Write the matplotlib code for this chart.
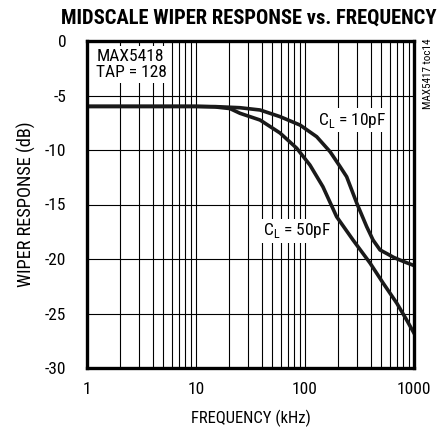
import numpy as np
import matplotlib
matplotlib.use("Agg")
import matplotlib.pyplot as plt
from matplotlib import font_manager

# frequency (kHz) and wiper response (dB)
freq_10pf = [1, 2, 5, 10, 15, 25.3, 38.7, 59, 90, 128, 170, 210, 241, 298, 368,
             421, 488, 562, 650, 745, 860, 1000]
resp_10pf = [-6.0, -6.0, -6.0, -6.0, -6.02, -6.12, -6.33, -6.94, -7.71, -8.78,
             -10.16, -11.53, -12.45, -14.86, -17.03, -18.26, -19.17, -19.5,
             -19.85, -20.1, -20.35, -20.6]

freq_50pf = [1, 2, 5, 10, 15, 20.5, 25.3, 38.7, 59, 84, 111, 146, 195, 276, 395,
             520, 694, 857, 1000]
resp_50pf = [-6.0, -6.0, -6.0, -6.0, -6.05, -6.2, -6.63, -7.25, -8.44, -9.84,
             -11.38, -13.37, -16.12, -18.26, -20.37, -22.2, -24.04, -25.6, -26.8]

x_ticks = [1, 10, 100, 1000]
x_labels = ["1", "10", "100", "1000"]
y_ticks = [0, -5, -10, -15, -20, -25, -30]

# pick a narrow face if one is installed
names = {f.name for f in font_manager.fontManager.ttflist}
narrow = next((n for n in ['Liberation Sans Narrow', 'Roboto Condensed',
                           'DejaVu Sans Condensed', 'Roboto']
               if n in names), 'DejaVu Sans')

plt.rcParams['font.family'] = [narrow, 'DejaVu Sans']
plt.rcParams['font.stretch'] = 'condensed'
plt.rcParams['axes.unicode_minus'] = False
plt.rcParams['mathtext.fontset'] = 'custom'
plt.rcParams['mathtext.rm'] = narrow

fig = plt.figure(figsize=(4.4, 4.28), dpi=100)
ax = fig.add_axes([87 / 440, 60 / 428, 327 / 440, 327 / 428])

ax.set_xscale('log')
ax.set_xlim(1, 1000)
ax.set_ylim(-30, 0)

# grid: every decade subdivision and every 5 dB
minor = [m * d for d in (1, 10, 100) for m in range(2, 10)]
for f in minor + [10, 100]:
    ax.axvline(f, color='black', lw=0.8, zorder=1)
for y in y_ticks[1:-1]:
    ax.axhline(y, color='black', lw=0.8, zorder=1)

ax.plot(freq_10pf, resp_10pf, color='#1a1a1a', lw=2.6, zorder=3)
ax.plot(freq_50pf, resp_50pf, color='#1a1a1a', lw=2.6, zorder=3)

ax.set_xticks(x_ticks)
ax.set_xticklabels(x_labels)
ax.set_xticks([], minor=True)
ax.set_yticks(y_ticks)
ax.tick_params(length=0, labelsize=12.5, pad=10)
ax.tick_params(axis='y', pad=15)
for s in ax.spines.values():
    s.set_linewidth(2.4)
    s.set_zorder(5)

ax.set_xlabel("FREQUENCY (kHz)", fontsize=12, labelpad=9)
ax.set_ylabel("WIPER RESPONSE (dB)", fontsize=13.2, labelpad=6)

fig.text(0.565, 0.958, "MIDSCALE WIPER RESPONSE vs. FREQUENCY", ha='center',
         va='center', fontsize=14.8, fontweight='heavy')

box = dict(facecolor='white', edgecolor='none', pad=2)
ax.text(0.028, 0.975, "MAX5418\nTAP = 128", transform=ax.transAxes, ha='left',
        va='top', fontsize=12.5, linespacing=1.1, bbox=box, zorder=4)
ax.text(0.81, 0.758, "C$_\\mathregular{L}$ = 10pF", transform=ax.transAxes,
        ha='center', va='center', fontsize=12.5, bbox=box, zorder=4)
ax.text(0.642, 0.419, "C$_\\mathregular{L}$ = 50pF", transform=ax.transAxes,
        ha='center', va='center', fontsize=12.5, bbox=box, zorder=4)
fig.text(0.973, 0.828, "MAX5417 toc14", rotation=90, ha='center', va='center',
         fontsize=8)

fig.savefig("out.png", dpi=100)
